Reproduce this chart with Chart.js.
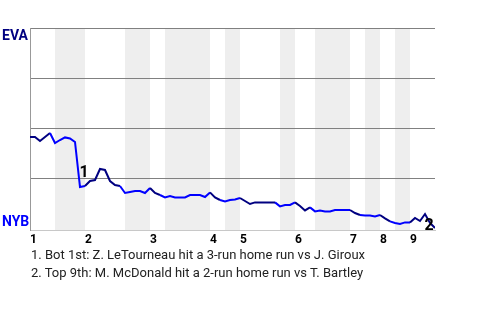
<!DOCTYPE html>
<html>
<head>
<meta charset="utf-8">
<script src="https://cdn.jsdelivr.net/npm/chart.js@4"></script>
<style>
  body { margin: 0; background: #fff; }
  #wrap { position: relative; width: 480px; height: 320px; }
  #chart { position: absolute; left: 0; top: 0; }
  .notes { position: absolute; left: 31px; top: 246px; font: 13px/18px Roboto, sans-serif; color: #222; white-space: nowrap; }
</style>
</head>
<body>
<div id="wrap">
  <canvas id="chart" width="480" height="320"></canvas>
  <div class="notes">
    <div>1. Bot 1st: Z. LeTourneau hit a 3-run home run vs J. Giroux</div>
    <div>2. Top 9th: M. McDonald hit a 2-run home run vs T. Bartley</div>
  </div>
</div>
<script>
// EVA win probability (%) after each plate appearance
const winProb = [
  45.5, 45.5, 43.5, 45.5, 47.5, 42.5, 44, 45.3, 44.8, 43,
  20.5, 21, 23.5, 24, 29.5, 29, 23.5, 21.5, 21, 17.5,
  18, 18.5, 18.5, 17.5, 20, 17.5, 16.5, 15.3, 16, 15.3,
  15.3, 15.3, 16.5, 16.5, 16.5, 15.5, 17.8, 15.3, 14, 13.3,
  14, 14.3, 15, 13.5, 12, 12.8, 12.8, 12.8, 12.8, 12.8,
  10.8, 11.5, 11.5, 12.8, 11, 8.8, 10.3, 8.3, 8.8, 8.3,
  8.3, 9, 9, 9, 9, 7.5, 6.5, 6.3, 6.3, 5.8,
  6.5, 4.8, 3.3, 2.5, 2, 2.8, 2.8, 5, 3.5, 7,
  2.5, 0
];

// plate appearance index where each inning starts
const inningStart = [0, 11, 24, 36, 42, 53, 64, 70, 76];
const inningLabels = ['1', '2', '3', '4', '5', '6', '7', '8', '9'];

// bottom halves (NYB batting), shaded
const bottomHalves = [[5, 11], [19, 24], [27, 36], [39, 42], [50, 53], [57, 64], [67, 70], [73, 76]];

// key events: index of the plate appearance and footnote number
const eventIndex = [10, 79];
const eventLabels = ['1', '2'];

const NAVY = '#000080';
const BLUE = '#0000ff';

const inBottom = u => bottomHalves.some(([a, b]) => u >= a && u <= b);

const bandsPlugin = {
    id: 'bands',
    beforeDraw(chart) {
        const { ctx, chartArea, scales } = chart;
        ctx.save();
        ctx.fillStyle = '#eeeeee';
        bottomHalves.forEach(([a, b]) => {
            const x0 = scales.x.getPixelForValue(a);
            const x1 = scales.x.getPixelForValue(b);
            ctx.fillRect(x0, chartArea.top, x1 - x0, chartArea.bottom - chartArea.top);
        });
        ctx.restore();
    }
};

const textPlugin = {
    id: 'texts',
    afterDraw(chart) {
        const { ctx, scales } = chart;
        ctx.save();
        ctx.textAlign = 'left';
        ctx.textBaseline = 'alphabetic';
        ctx.font = 'bold 14px Roboto, sans-serif';
        ctx.fillStyle = NAVY;
        ctx.fillText('EVA', 2, scales.y.getPixelForValue(100) + 12);
        ctx.fillStyle = BLUE;
        ctx.fillText('NYB', 2, scales.y.getPixelForValue(0) - 2);

        // event markers at the middle of the event's segment
        ctx.font = 'bold 16px Roboto, sans-serif';
        ctx.fillStyle = '#000';
        eventIndex.forEach((i, k) => {
            const x = scales.x.getPixelForValue(i - 0.5);
            const y = scales.y.getPixelForValue((winProb[i - 1] + winProb[i]) / 2);
            ctx.fillText(eventLabels[k], x + 2, y + 12);
        });
        ctx.restore();
    }
};

new Chart(document.getElementById('chart'), {
    type: 'line',
    data: {
        datasets: [{
            data: winProb.map((v, i) => ({ x: i, y: v })),
            borderColor: NAVY,
            borderWidth: 2,
            pointRadius: 0,
            tension: 0,
            segment: {
                borderColor: c => inBottom(c.p1.parsed.x) ? BLUE : NAVY
            }
        }]
    },
    options: {
        responsive: false,
        animation: false,
        layout: { padding: { top: 28, right: 45, left: 0, bottom: 0 } },
        plugins: {
            legend: { display: false },
            tooltip: { enabled: false }
        },
        scales: {
            x: {
                type: 'linear',
                min: 0,
                max: winProb.length - 1,
                afterBuildTicks: s => { s.ticks = inningStart.map(v => ({ value: v })); },
                afterFit: s => { s.height = 90; },
                ticks: {
                    align: 'start',
                    padding: -5,
                    autoSkip: false,
                    maxRotation: 0,
                    color: '#000',
                    font: { family: 'Roboto', size: 12, weight: 'bold' },
                    callback: v => inningLabels[inningStart.indexOf(v)]
                },
                grid: { display: false },
                border: { color: '#c8c8c8' }
            },
            y: {
                min: -1,
                max: 100,
                afterBuildTicks: s => { s.ticks = [25, 50, 75, 100].map(v => ({ value: v })); },
                afterFit: s => { s.width = 30; },
                ticks: { display: false },
                grid: { color: '#808080', drawTicks: false },
                border: { color: '#999999' }
            }
        }
    },
    plugins: [bandsPlugin, textPlugin]
});
</script>
</body>
</html>
